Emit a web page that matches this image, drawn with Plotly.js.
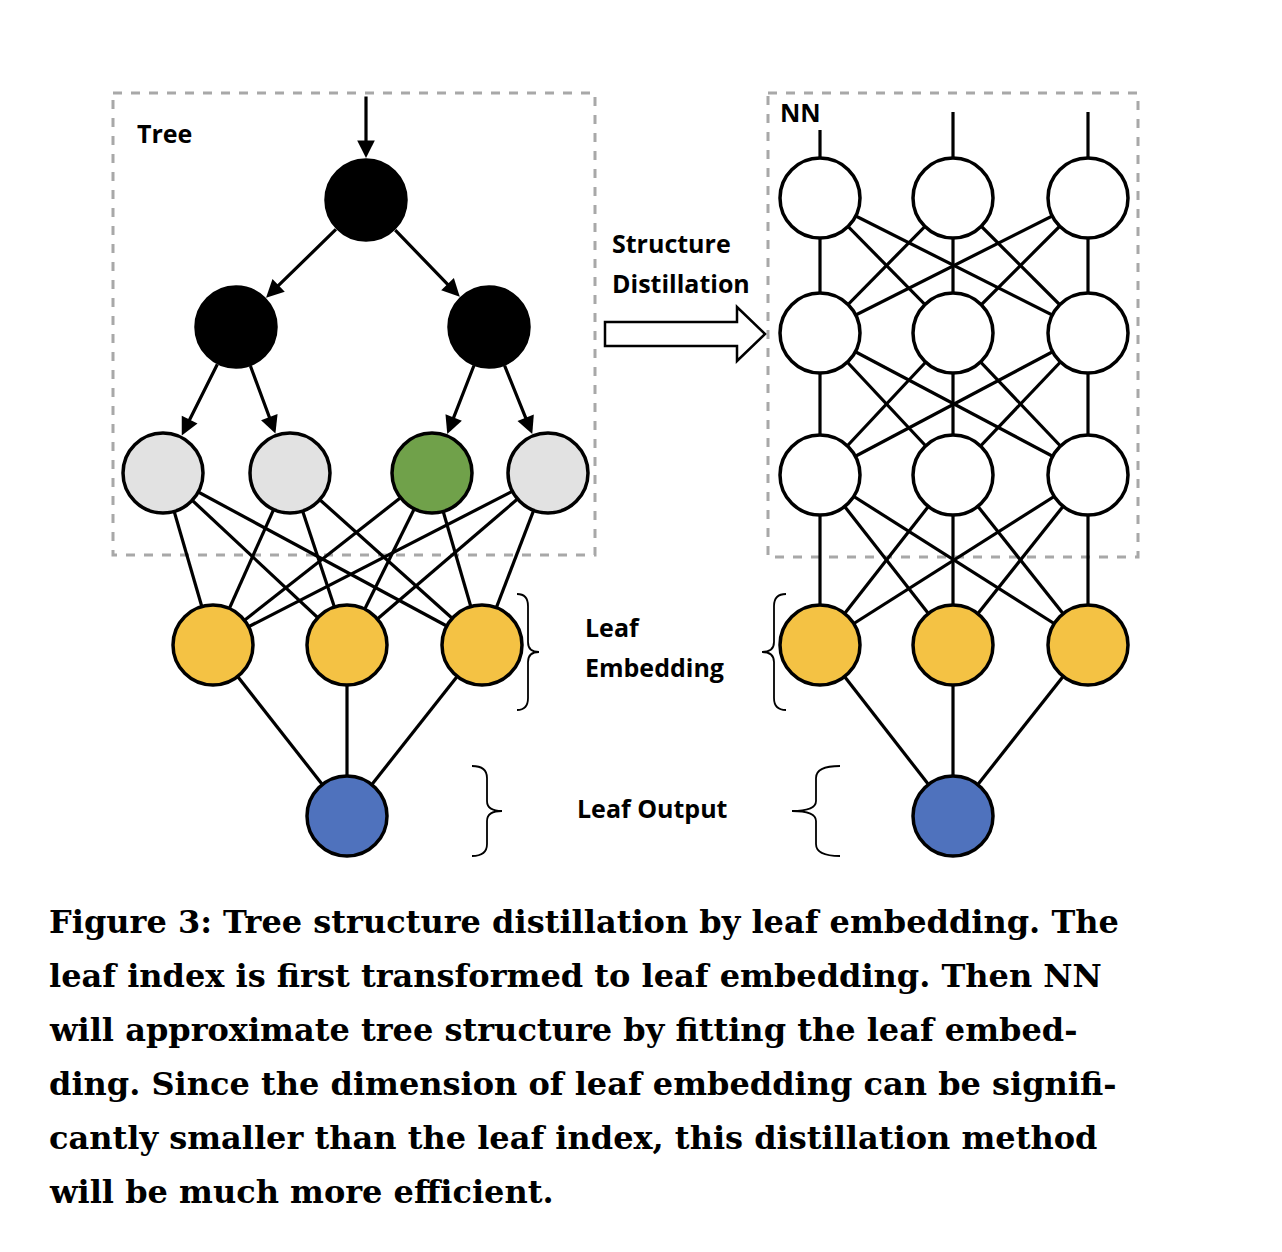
<!DOCTYPE html>
<html>
<head>
<meta charset="utf-8">
<script src="https://cdn.plot.ly/plotly-3.0.1.min.js"></script>
<style>body{margin:0;background:#fff}</style>
</head>
<body>
<div id="fig" style="width:1282px;height:1252px"></div>
<script>
// ---- node positions (pixel space of the figure) ----
const treeRoot = [366, 200];
const treeMid = [[236, 327], [489, 327]];
const treeLeaves = [[163, 473], [290, 473], [432, 473], [548, 473]];
const leafColors = ["#e2e2e2", "#e2e2e2", "#70a14a", "#e2e2e2"];
const leftEmb = [[213, 645], [347, 645], [482, 645]];
const leftOut = [347, 816];

const nnCols = [820, 953, 1088];
const nnRows = [198, 333, 475];
const rightEmbY = 645;
const rightOut = [953, 816];

const captionLines = [
  "Figure 3: Tree structure distillation by leaf embedding. The",
  "leaf index is first transformed to leaf embedding. Then NN",
  "will approximate tree structure by fitting the leaf embed-",
  "ding. Since the dimension of leaf embedding can be signifi-",
  "cantly smaller than the leaf index, this distillation method",
  "will be much more efficient."
];

const R = 40;
const YELLOW = "#f4c244", BLUE = "#4f72bd";
const data = [];
const annotations = [];
const shapes = [];

function edge(a, b) {
  data.push({x: [a[0], b[0]], y: [a[1], b[1]], mode: "lines", type: "scatter",
    line: {color: "black", width: 3.2}, hoverinfo: "none"});
}
function nodes(pts, colors) {
  data.push({x: pts.map(p => p[0]), y: pts.map(p => p[1]), mode: "markers", type: "scatter",
    marker: {size: 2 * R, color: colors, line: {color: "black", width: 3.5}}, hoverinfo: "none"});
}
function arrow(a, b) {
  const dx = b[0] - a[0], dy = b[1] - a[1], L = Math.hypot(dx, dy);
  const ux = dx / L, uy = dy / L;
  annotations.push({x: b[0] - ux * (R + 2), y: b[1] - uy * (R + 2),
    ax: a[0] + ux * R, ay: a[1] + uy * R, axref: "x", ayref: "y", xref: "x", yref: "y",
    text: "", showarrow: true, arrowhead: 2, arrowsize: 1.1, arrowwidth: 3.2, arrowcolor: "black"});
}
function label(x, y, t, size, anchor) {
  annotations.push({x: x, y: y, xref: "x", yref: "y", text: t, showarrow: false,
    xanchor: anchor || "left", yanchor: "middle", align: "left",
    font: {family: "Open Sans", size: size, color: "black", weight: "bold"}});
}

// tree edges
treeMid.forEach(m => arrow(treeRoot, m));
arrow(treeMid[0], treeLeaves[0]); arrow(treeMid[0], treeLeaves[1]);
arrow(treeMid[1], treeLeaves[2]); arrow(treeMid[1], treeLeaves[3]);
annotations.push({x: treeRoot[0], y: treeRoot[1] - R - 2, ax: treeRoot[0], ay: 95,
  axref: "x", ayref: "y", xref: "x", yref: "y", text: "", showarrow: true,
  arrowhead: 2, arrowsize: 1.1, arrowwidth: 3.2, arrowcolor: "black"});
treeLeaves.forEach(l => leftEmb.forEach(e => edge(l, e)));
leftEmb.forEach(e => edge(e, leftOut));

// NN edges
edge([nnCols[0], 130], [nnCols[0], nnRows[0]]);
edge([nnCols[1], 112], [nnCols[1], nnRows[0]]);
edge([nnCols[2], 112], [nnCols[2], nnRows[0]]);
const nnLayers = nnRows.concat([rightEmbY]);
for (let i = 0; i < nnLayers.length - 1; i++)
  nnCols.forEach(a => nnCols.forEach(b => edge([a, nnLayers[i]], [b, nnLayers[i + 1]])));
nnCols.forEach(c => edge([c, rightEmbY], rightOut));

// nodes
nodes([treeRoot].concat(treeMid), "black");
nodes(treeLeaves, leafColors);
nodes(leftEmb, YELLOW);
nodes([leftOut], BLUE);
nnRows.forEach(y => nodes(nnCols.map(c => [c, y]), "white"));
nodes(nnCols.map(c => [c, rightEmbY]), YELLOW);
nodes([rightOut], BLUE);

// dashed boxes
const dash = {color: "#a8a8a8", width: 3, dash: "dash"};
shapes.push({type: "rect", xref: "x", yref: "y", x0: 113, y0: 93, x1: 595, y1: 555, line: dash, layer: "below"});
shapes.push({type: "rect", xref: "x", yref: "y", x0: 768, y0: 93, x1: 1138, y1: 557, line: dash, layer: "below"});
// hollow arrow
shapes.push({type: "path", xref: "x", yref: "y", line: {color: "black", width: 2.5}, fillcolor: "white",
  path: "M 605 322 L 737 322 L 737 307 L 765 334 L 737 361 L 737 346 L 605 346 Z"});
// braces
function brace(x, y0, y1, w, dir) {
  const m = (y0 + y1) / 2, t = x + dir * w, e = x + dir * w * 2;
  return {type: "path", xref: "x", yref: "y", line: {color: "black", width: 1.8},
    path: `M ${x} ${y0} Q ${t} ${y0} ${t} ${y0 + 12} L ${t} ${m - 10} Q ${t} ${m} ${e} ${m}` +
          ` Q ${t} ${m} ${t} ${m + 10} L ${t} ${y1 - 12} Q ${t} ${y1} ${x} ${y1}`};
}
shapes.push(brace(517, 594, 710, 11, 1));
shapes.push(brace(472, 766, 856, 15, 1));
shapes.push(brace(786, 594, 710, 12, -1));
shapes.push(brace(840, 766, 856, 24, -1));

// labels
label(135, 133, "Tree", 25);
label(778, 112, "NN", 25);
label(610, 243, "Structure", 25);
label(610, 283, "Distillation", 25);
label(583, 627, "Leaf", 25);
label(583, 667, "Embedding", 25);
label(575, 808, "Leaf Output", 25);

captionLines.forEach((t, i) => annotations.push({x: 47, y: 922 + i * 54, xref: "x", yref: "y",
  text: t, showarrow: false, xanchor: "left", yanchor: "middle",
  font: {family: "DejaVu Serif", size: 32, color: "black", weight: "bold"}}));

Plotly.newPlot("fig", data, {
  width: 1282, height: 1252, margin: {t: 0, b: 0, l: 0, r: 0},
  showlegend: false, paper_bgcolor: "white", plot_bgcolor: "white",
  xaxis: {range: [0, 1282], visible: false, fixedrange: true},
  yaxis: {range: [1252, 0], visible: false, fixedrange: true},
  shapes: shapes, annotations: annotations
}, {staticPlot: true});
</script>
</body>
</html>
